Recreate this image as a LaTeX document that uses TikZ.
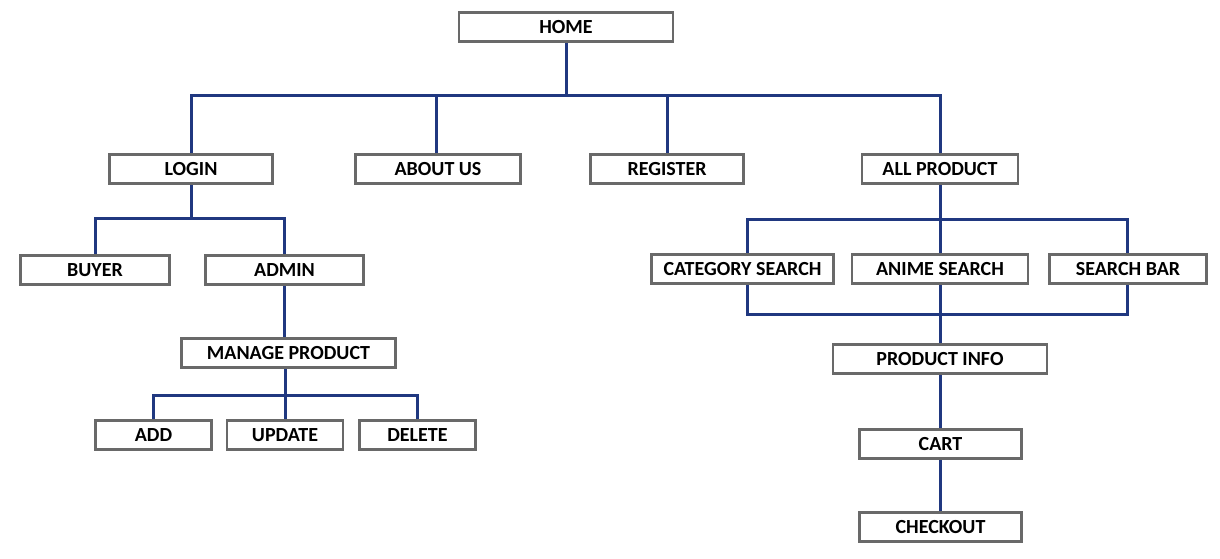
\documentclass[tikz,border=0pt]{standalone}
\usepackage{fontspec}
\setmainfont{Carlito}
\definecolor{boxgray}{RGB}{105,105,105}
\definecolor{linkblue}{RGB}{32,56,128}
\begin{document}
\begin{tikzpicture}[x=1pt,y=-1pt,
  pbox/.style={draw=boxgray,line width=2.8pt,fill=white,minimum height=29.5pt,inner sep=0pt,font=\fontsize{20}{22}\selectfont\bfseries,text=black},
  link/.style={draw=linkblue,line width=3pt}]
\useasboundingbox (0,0) rectangle (1220,558);
% junctions
\coordinate (j1) at (566,95);
\coordinate (j2) at (191,218);
\coordinate (j3) at (285,395);
\coordinate (j4) at (940,219);
\coordinate (j5) at (940,314);
\coordinate (cx) at (747,0);
\coordinate (sx) at (1127,0);
\coordinate (ax) at (436,0);
% nodes
\node[pbox,minimum width=214] (home) at (566,27) {HOME};
\node[pbox,minimum width=163] (login) at (191,169) {LOGIN};
\node[pbox,minimum width=165] (about) at (438,169) {ABOUT US};
\node[pbox,minimum width=153] (register) at (667,169) {REGISTER};
\node[pbox,minimum width=156] (allp) at (940,169) {ALL PRODUCT};
\node[pbox,minimum width=149] (buyer) at (95,270) {BUYER};
\node[pbox,minimum width=158] (admin) at (284.5,270) {ADMIN};
\node[pbox,minimum width=214] (manage) at (288.5,353) {MANAGE PRODUCT};
\node[pbox,minimum width=116] (add) at (153.5,435) {ADD};
\node[pbox,minimum width=116] (update) at (285,435) {UPDATE};
\node[pbox,minimum width=116] (delete) at (417.5,435) {DELETE};
\node[pbox,minimum width=182] (cat) at (742.5,269) {CATEGORY SEARCH};
\node[pbox,minimum width=176] (anime) at (940,269) {ANIME SEARCH};
\node[pbox,minimum width=157] (sbar) at (1128,269) {SEARCH BAR};
\node[pbox,minimum width=214] (pinfo) at (940,359) {PRODUCT INFO};
\node[pbox,minimum width=162] (cart) at (940.5,444) {CART};
\node[pbox,minimum width=162] (checkout) at (940.5,527) {CHECKOUT};
% connectors
\draw[link] (home.south) -- (j1);
\draw[link] (login.north) |- (allp.north |- j1) -- (allp.north);
\draw[link] (about.north -| ax) -- (ax |- j1);
\draw[link] (register.north) -- (register.north |- j1);
\draw[link] (login.south) -- (j2);
\draw[link] (buyer.north) |- (admin.north |- j2) -- (admin.north);
\draw[link] (admin.south) -- (admin.south |- manage.north);
\draw[link] (manage.south -| j3) -- (j3);
\draw[link] (add.north) |- (delete.north |- j3) -- (delete.north);
\draw[link] (update.north) -- (update.north |- j3);
\draw[link] (allp.south) -- (j4);
\draw[link] (cat.north -| cx) |- (sx |- j4) -- (sbar.north -| sx);
\draw[link] (anime.north) -- (anime.north |- j4);
\draw[link] (cat.south -| cx) |- (sx |- j5) -- (sbar.south -| sx);
\draw[link] (anime.south) -- (pinfo.north);
\draw[link] (pinfo.south) -- (cart.north -| pinfo.south);
\draw[link] (cart.south -| pinfo.south) -- (checkout.north -| pinfo.south);
\end{tikzpicture}
\end{document}
